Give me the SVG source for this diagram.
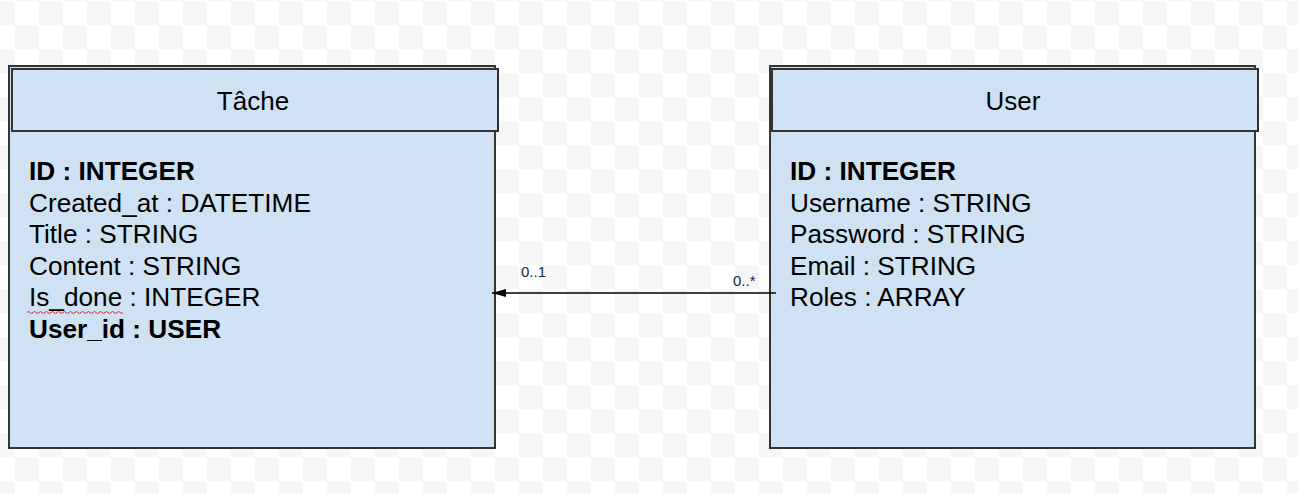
<svg xmlns="http://www.w3.org/2000/svg" width="1298" height="493" viewBox="0 0 1298 493">
  <defs>
    <pattern id="checker" x="15" y="1" width="48" height="48" patternUnits="userSpaceOnUse">
      <rect width="48" height="48" fill="#ffffff"/>
      <rect x="24" y="0" width="24" height="24" fill="#f6f6f6"/>
      <rect x="0" y="24" width="24" height="24" fill="#f6f6f6"/>
    </pattern>
    <marker id="arrow" viewBox="0 0 14 8" refX="14" refY="4" markerWidth="14" markerHeight="8" markerUnits="userSpaceOnUse" orient="auto">
      <path d="M0,0 L14,4 L0,8 Z" fill="#000"/>
    </marker>
  </defs>
  <style>
    .box { fill: #cfe2f3; stroke: #333333; stroke-width: 2; }
    .title { font-family: "Liberation Sans", Arial, sans-serif; font-size: 26px; fill: #000; text-anchor: middle; }
    .attr { font-family: "Liberation Sans", Arial, sans-serif; font-size: 26.2px; fill: #000; }
    .bold { font-weight: bold; }
    .mult { font-family: "Liberation Sans", Arial, sans-serif; font-size: 15px; fill: #1a1f3a; }
  </style>
  <rect x="0" y="0" width="1298" height="493" fill="url(#checker)"/>

  <g id="tache">
    <rect class="box" x="9" y="66" width="486" height="382"/>
    <rect class="box" x="12" y="69" width="486" height="62"/>
    <text class="title" x="253" y="110">Tâche</text>
    <text class="attr bold" x="29" y="180">ID : INTEGER</text>
    <text class="attr" x="29" y="211.5">Created_at : DATETIME</text>
    <text class="attr" x="29" y="243">Title : STRING</text>
    <text class="attr" x="29" y="274.5">Content : STRING</text>
    <text class="attr" x="29" y="306">Is_done : INTEGER</text>
    <path d="M27,312.5 q1.5,-2 3,0 t3,0 t3,0 t3,0 t3,0 t3,0 t3,0 t3,0 t3,0 t3,0 t3,0 t3,0 t3,0 t3,0 t3,0 t3,0 t3,0 t3,0 t3,0 t3,0 t3,0 t3,0 t3,0 t3,0 t3,0 t3,0 t3,0 t3,0 t3,0 t3,0 t3,0 t3,0" fill="none" stroke="#e02020" stroke-width="1"/>
    <text class="attr bold" x="29" y="337.5">User_id : USER</text>
  </g>

  <g id="user">
    <rect class="box" x="770" y="66" width="485" height="382"/>
    <rect class="box" x="772" y="69" width="486" height="62"/>
    <text class="title" x="1013" y="110">User</text>
    <text class="attr bold" x="790" y="180">ID : INTEGER</text>
    <text class="attr" x="790" y="211.5">Username : STRING</text>
    <text class="attr" x="790" y="243">Password : STRING</text>
    <text class="attr" x="790" y="274.5">Email : STRING</text>
    <text class="attr" x="790" y="306">Roles : ARRAY</text>
  </g>

  <g id="connectors">
    <line x1="776" y1="293" x2="492" y2="293" stroke="#000" stroke-width="1.3" marker-end="url(#arrow)"/>
    <text class="mult" x="521" y="277">0..1</text>
    <text class="mult" x="733" y="286">0..*</text>
  </g>
</svg>
